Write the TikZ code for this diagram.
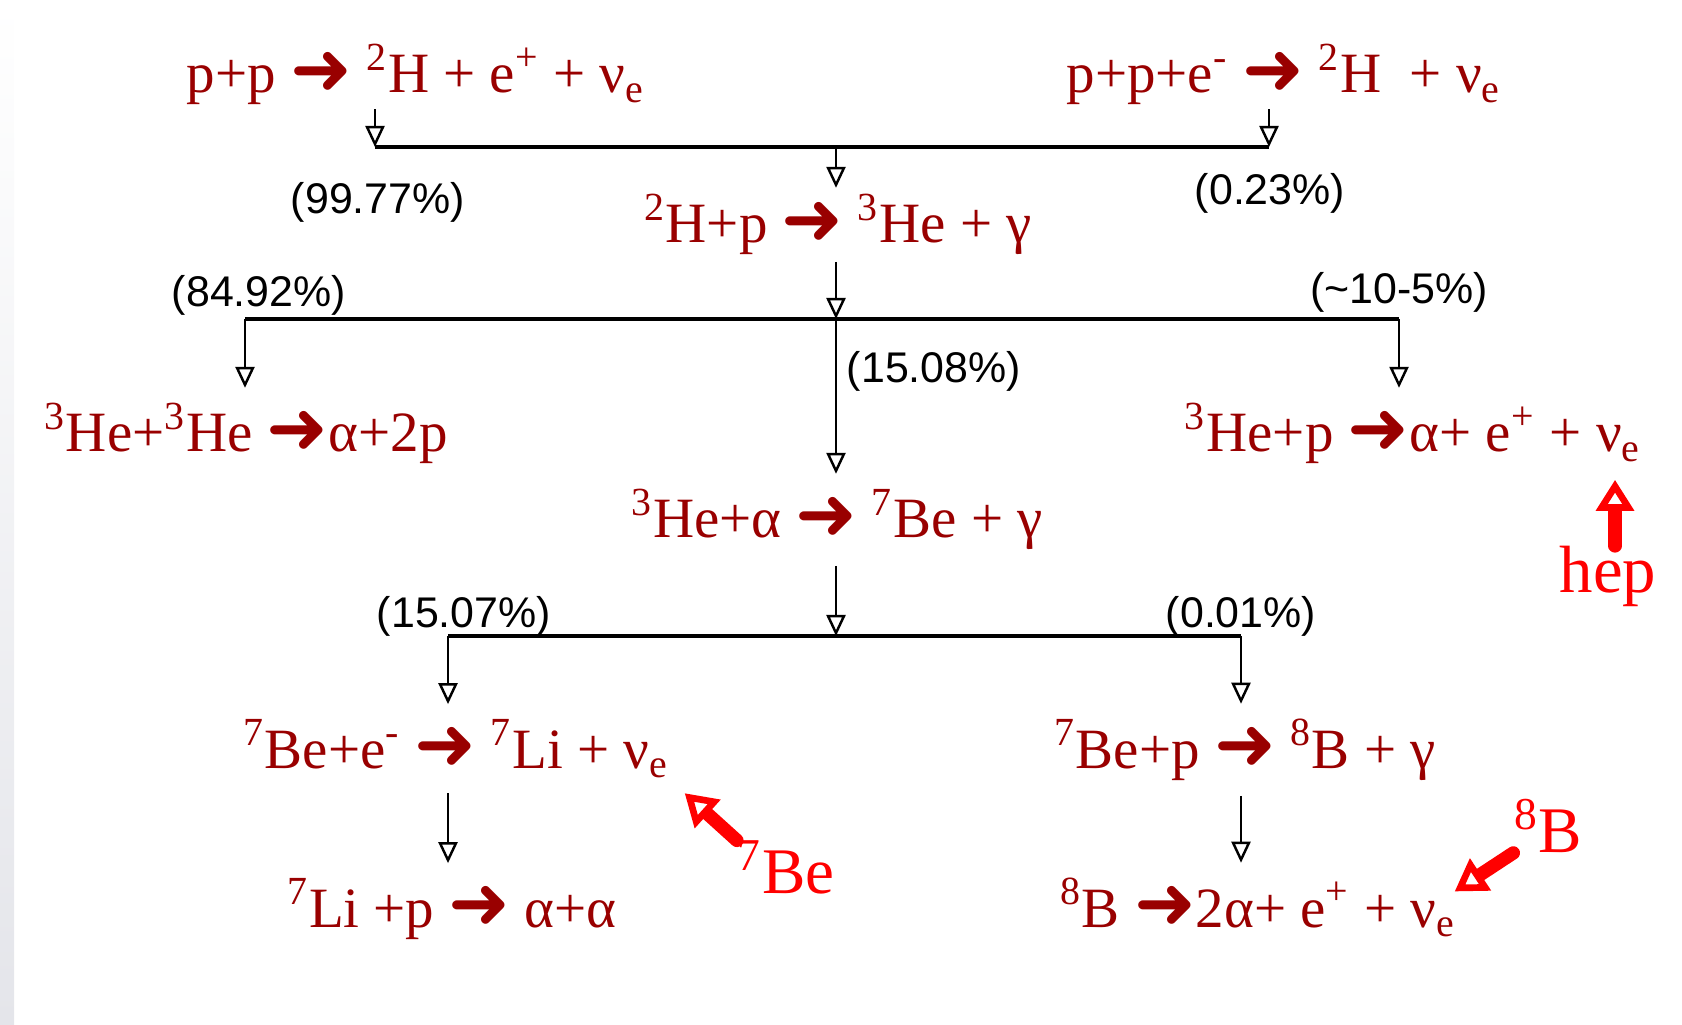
\documentclass[tikz,border=0pt]{standalone}
\usepackage{fontspec}
\setmainfont{Liberation Serif}
\newfontfamily\pctfont{Liberation Sans}
\newfontfamily\symfont{DejaVu Sans}
\usetikzlibrary{arrows.meta, positioning, calc}
\definecolor{rxnRed}{HTML}{990000}
\definecolor{tagRed}{HTML}{FF0000}
\definecolor{edgeGray}{HTML}{E4E5EA}
\newcommand{\rxnfont}{\fontsize{16.2}{19}\selectfont}
\newcommand{\yields}{{\symfont\fontsize{21}{21}\selectfont\raisebox{-0.3pt}{➜}}}
\newcommand{\iso}[2]{\textsuperscript{#1}#2}
\newcommand{\nue}{ν\textsubscript{e}}

\begin{document}
\begin{tikzpicture}[
  x=0.01cm, y=-0.01cm,
  rxn/.style={text=rxnRed, font=\rxnfont, inner sep=0.15cm, anchor=base},
  pct/.style={font=\pctfont\fontsize{12.2}{14}\selectfont, inner sep=0pt},
  tag/.style={text=tagRed, font=\fontsize{18.5}{20}\selectfont, inner sep=0pt, anchor=base},
  flow/.style={line width=0.8pt,
               -{Triangle[open, length=0.21cm, width=0.19cm, line width=0.7pt]}},
  bar/.style={line width=1.1pt},
  callout/.style={draw=tagRed, line width=3.8pt, line cap=round,
               -{Triangle[length=0.31cm, width=0.37cm, line width=1.9pt, fill=white]}},
]
\useasboundingbox (0,0) rectangle (1682,1025);
\shade[top color=white, bottom color=edgeGray] (0,0) rectangle (14,1025);

% reactions
\node[rxn, inner sep=1pt] (pp)  at (416,93)  {p+p \yields{} \iso{2}{H} + e\textsuperscript{+} + \nue};
\node[rxn, inner sep=1pt] (pep) at (1284,93) {p+p+e\textsuperscript{-} \yields{} \iso{2}{H}\ \ + \nue};
\node[rxn, inner sep=0.06cm] (dp) at (838,243) {\iso{2}{H}+p \yields{} \iso{3}{He} + γ};
\node[rxn] (hehe)    at (246,452)  {\iso{3}{He}+\iso{3}{He} \yields{}α+2p};
\node[rxn] (hep)     at (1413,452) {\iso{3}{He}+p \yields{}α+ e\textsuperscript{+} + \nue};
\node[rxn] (healpha) at (837,538)  {\iso{3}{He}+α \yields{} \iso{7}{Be} + γ};
\node[rxn] (beE)     at (456,768)  {\iso{7}{Be}+e\textsuperscript{-} \yields{} \iso{7}{Li} + \nue};
\node[rxn] (beP)     at (1245,768) {\iso{7}{Be}+p \yields{} \iso{8}{B} + γ};
\node[rxn] (li)      at (452,927)  {\iso{7}{Li} +p \yields{} α+α};
\node[rxn] (b8)      at (1258,927) {\iso{8}{B} \yields{}2α+ e\textsuperscript{+} + \nue};

% branch points
\coordinate (jL1) at (375,147);
\coordinate (jC1) at (836,147);
\coordinate (jR1) at (1269,147);
\coordinate (jL2) at (245,319);
\coordinate (jC2) at (836,319);
\coordinate (jR2) at (1399,319);
\coordinate (jL3) at (448,636);
\coordinate (jC3) at (836,636);
\coordinate (jR3) at (1241,636);

% branching ratios
\node[pct] (r9977) at (378,202)  {(99.77\%)};
\node[pct] (r0023) at (1270,193) {(0.23\%)};
\node[pct] (r8492) at (259,295)  {(84.92\%)};
\node[pct] (rhep)  at (1399,292) {(\textasciitilde10-5\%)};
\node[pct] (r1508) at (934,371)  {(15.08\%)};
\node[pct] (r1507) at (464,616)  {(15.07\%)};
\node[pct] (r0001) at (1241,616) {(0.01\%)};

\draw[flow] (pp.south -| jL1)  -- (jL1);
\draw[flow] (pep.south -| jR1) -- (jR1);
\draw[bar]  (jL1) -- (jR1);
\draw[flow] (jC1) -- (dp.north -| jC1);

\draw[flow] (dp.south -| jC2) -- (jC2);
\draw[bar]  (jL2) -- (jR2);
\draw[flow] (jL2) -- (jL2 |- hehe.north);
\draw[flow] (jR2) -- (jR2 |- hep.north);
\draw[flow] (jC2) -- (healpha.north -| jC2);

\draw[flow] (healpha.south -| jC3) -- (jC3);
\draw[bar]  (jL3) -- (jR3);
\draw[flow] (jL3) -- (jL3 |- beE.north);
\draw[flow] (jR3) -- (jR3 |- beP.north);
\draw[flow] (beE.south -| jL3) -- (jL3 |- li.north);
\draw[flow] (beP.south -| jR3) -- (jR3 |- b8.north);

% neutrino sources
\node[tag, font=\fontsize{19}{21}\selectfont] (tagHep) at (1608,593) {hep};
\node[tag] (tagBe) at (786,893)  {\textsuperscript{7}Be};
\node[tag] (tagB)  at (1548,852) {\textsuperscript{8}B};

\coordinate (hepFoot) at ([xshift=0.07cm]tagHep.north);
\draw[callout] (hepFoot) -- (hepFoot |- hep.south);
\draw[callout] (tagBe.north west) -- (beE.south east);
\draw[callout] (tagB.south west) -- ([xshift=-0.17cm, yshift=0.16cm]b8.east);
\end{tikzpicture}
\end{document}
